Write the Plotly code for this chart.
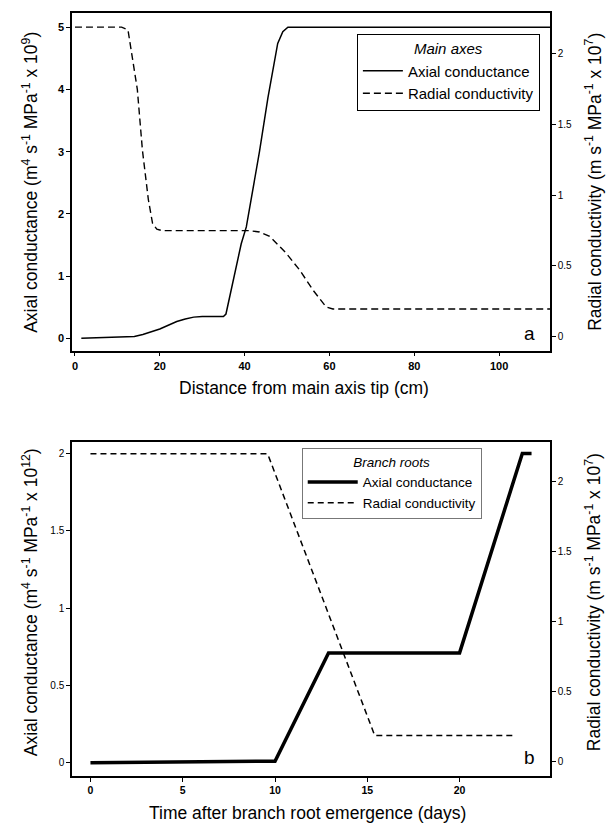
import plotly.graph_objects as go

# ---- Panel a: main axes ----
main_dist_axial = [1.5, 8, 14, 16, 18, 20, 22, 24, 26, 28, 30, 35, 35.6, 37.2, 39.2, 40.4, 41.5, 43.5, 45.5, 46.6, 47.8, 49.0, 50.2, 112]
main_axial = [0, 0.01, 0.03, 0.06, 0.1, 0.15, 0.21, 0.27, 0.31, 0.34, 0.35, 0.35, 0.39, 0.88, 1.52, 1.79, 2.2, 3.0, 3.87, 4.3, 4.74, 4.93, 5.0, 5.0]

main_dist_radial = [0, 11, 12.5, 13.7, 14.7, 15.9, 17.3, 18.3, 19.3, 20.5, 41, 43.5, 45.9, 49.8, 53, 56.1, 59.2, 60.8, 112]
main_radial = [2.19, 2.19, 2.17, 1.95, 1.75, 1.32, 0.97, 0.80, 0.76, 0.75, 0.75, 0.74, 0.71, 0.59, 0.47, 0.33, 0.21, 0.195, 0.195]

# ---- Panel b: branch roots ----
branch_days_axial = [0, 10, 12.9, 20, 23.4, 23.9]
branch_axial = [0, 0.01, 0.71, 0.71, 2.0, 2.0]
branch_days_radial = [0, 9.6, 15.4, 22.9]
branch_radial = [2.2, 2.2, 0.19, 0.19]

FONT = "Liberation Sans, Arial, sans-serif"

fig = go.Figure()
fig.add_trace(go.Scatter(x=main_dist_axial, y=main_axial, mode="lines", name="Axial conductance",
                         line=dict(color="black", width=1.5), xaxis="x", yaxis="y", legend="legend"))
fig.add_trace(go.Scatter(x=main_dist_radial, y=main_radial, mode="lines", name="Radial conductivity",
                         line=dict(color="black", width=1.4, dash="7px,4px"), xaxis="x", yaxis="y2", legend="legend"))
fig.add_trace(go.Scatter(x=branch_days_axial, y=branch_axial, mode="lines", name="Axial conductance",
                         line=dict(color="black", width=3.5), xaxis="x2", yaxis="y3", legend="legend2"))
fig.add_trace(go.Scatter(x=branch_days_radial, y=branch_radial, mode="lines", name="Radial conductivity",
                         line=dict(color="black", width=1.5, dash="6px,4px"), xaxis="x2", yaxis="y4", legend="legend2"))


def ax(size, bold=False):
    return dict(showline=True, linecolor="black", linewidth=1.5, ticks="outside", ticklen=4,
                tickcolor="black",
                tickfont=dict(size=size, family=FONT, color="black", weight="bold" if bold else "normal"),
                showgrid=False, zeroline=False)


top_dom = [0.5574, 1.0]
bot_dom = [0.0, 0.438]

fig.update_layout(
    width=609, height=823,
    margin=dict(l=72, r=59, t=13, b=47),
    paper_bgcolor="white", plot_bgcolor="white",
    font=dict(family=FONT, color="black"),
    xaxis=dict(**ax(11, True), domain=[0, 1], anchor="y", range=[-0.7, 112], tickvals=[0, 20, 40, 60, 80, 100], mirror=True),
    yaxis=dict(**ax(11, True), domain=top_dom, anchor="x", range=[-0.2, 5.23], tickvals=[0, 1, 2, 3, 4, 5]),
    yaxis2=dict(**ax(10), overlaying="y", side="right", anchor="x", range=[-0.10, 2.29],
                tickvals=[0, 0.5, 1, 1.5, 2]),
    xaxis2=dict(**ax(10.5, True), domain=[0, 1], anchor="y3", range=[-1, 24.9], tickvals=[0, 5, 10, 15, 20], mirror=True),
    yaxis3=dict(**ax(10), domain=bot_dom, anchor="x2", range=[-0.086, 2.075], tickvals=[0, 0.5, 1, 1.5, 2]),
    yaxis4=dict(**ax(10), overlaying="y3", side="right", anchor="x2", range=[-0.10, 2.286],
                tickvals=[0, 0.5, 1, 1.5, 2]),
    legend=dict(x=0.596, y=0.9725, xanchor="left", yanchor="top", bordercolor="black", borderwidth=1,
                bgcolor="white", font=dict(size=15, family=FONT),
                title=dict(text="<i>Main axes</i>", side="top center", font=dict(size=15, family=FONT)),
                tracegroupgap=0, itemwidth=40),
    legend2=dict(x=0.4806, y=0.4295, xanchor="left", yanchor="top", bordercolor="#777", borderwidth=1,
                 bgcolor="white", font=dict(size=13.5, family=FONT),
                 title=dict(text="<i>Branch roots</i>", side="top center", font=dict(size=13.5, family=FONT)),
                 tracegroupgap=0, itemwidth=50),
    showlegend=True,
)

ann = []
title_font = dict(size=17.5, family=FONT, color="black")
ann.append(dict(text="Axial conductance (m<sup>4</sup> s<sup>-1</sup> MPa<sup>-1</sup> x 10<sup>9</sup>)",
                xref="paper", yref="y domain", x=-0.0879, y=0.5, xanchor="center", yanchor="middle",
                textangle=-90, showarrow=False, font=title_font))
ann.append(dict(text="Radial conductivity (m s<sup>-1</sup> MPa<sup>-1</sup> x 10<sup>7</sup>)",
                xref="paper", yref="y domain", x=1.090, y=0.5, xanchor="center", yanchor="middle",
                textangle=-90, showarrow=False, font=title_font))
ann.append(dict(text="Distance from main axis tip (cm)", xref="paper", yref="paper", x=0.485, y=0.5085,
                xanchor="center", yanchor="middle", showarrow=False, font=title_font))
ann.append(dict(text="Axial conductance (m<sup>4</sup> s<sup>-1</sup> MPa<sup>-1</sup> x 10<sup>12</sup>)",
                xref="paper", yref="y3 domain", x=-0.0879, y=0.52, xanchor="center", yanchor="middle",
                textangle=-90, showarrow=False, font=title_font))
ann.append(dict(text="Radial conductivity (m s<sup>-1</sup> MPa<sup>-1</sup> x 10<sup>7</sup>)",
                xref="paper", yref="y3 domain", x=1.090, y=0.52, xanchor="center", yanchor="middle",
                textangle=-90, showarrow=False, font=title_font))
ann.append(dict(text="Time after branch root emergence (days)", xref="paper", yref="paper", x=0.493, y=-0.0485,
                xanchor="center", yanchor="middle", showarrow=False, font=title_font))
ann.append(dict(text="a", xref="paper", yref="paper", x=0.958, y=0.5806, xanchor="center", yanchor="middle",
                showarrow=False, font=dict(size=19, family=FONT, color="black")))
ann.append(dict(text="b", xref="paper", yref="paper", x=0.958, y=0.0249, xanchor="center", yanchor="middle",
                showarrow=False, font=dict(size=19, family=FONT, color="black")))
fig.update_layout(annotations=ann)

fig.write_html("out.html", config={"displayModeBar": False},
               post_script="document.body.style.margin='0';document.body.style.overflow='hidden';")
